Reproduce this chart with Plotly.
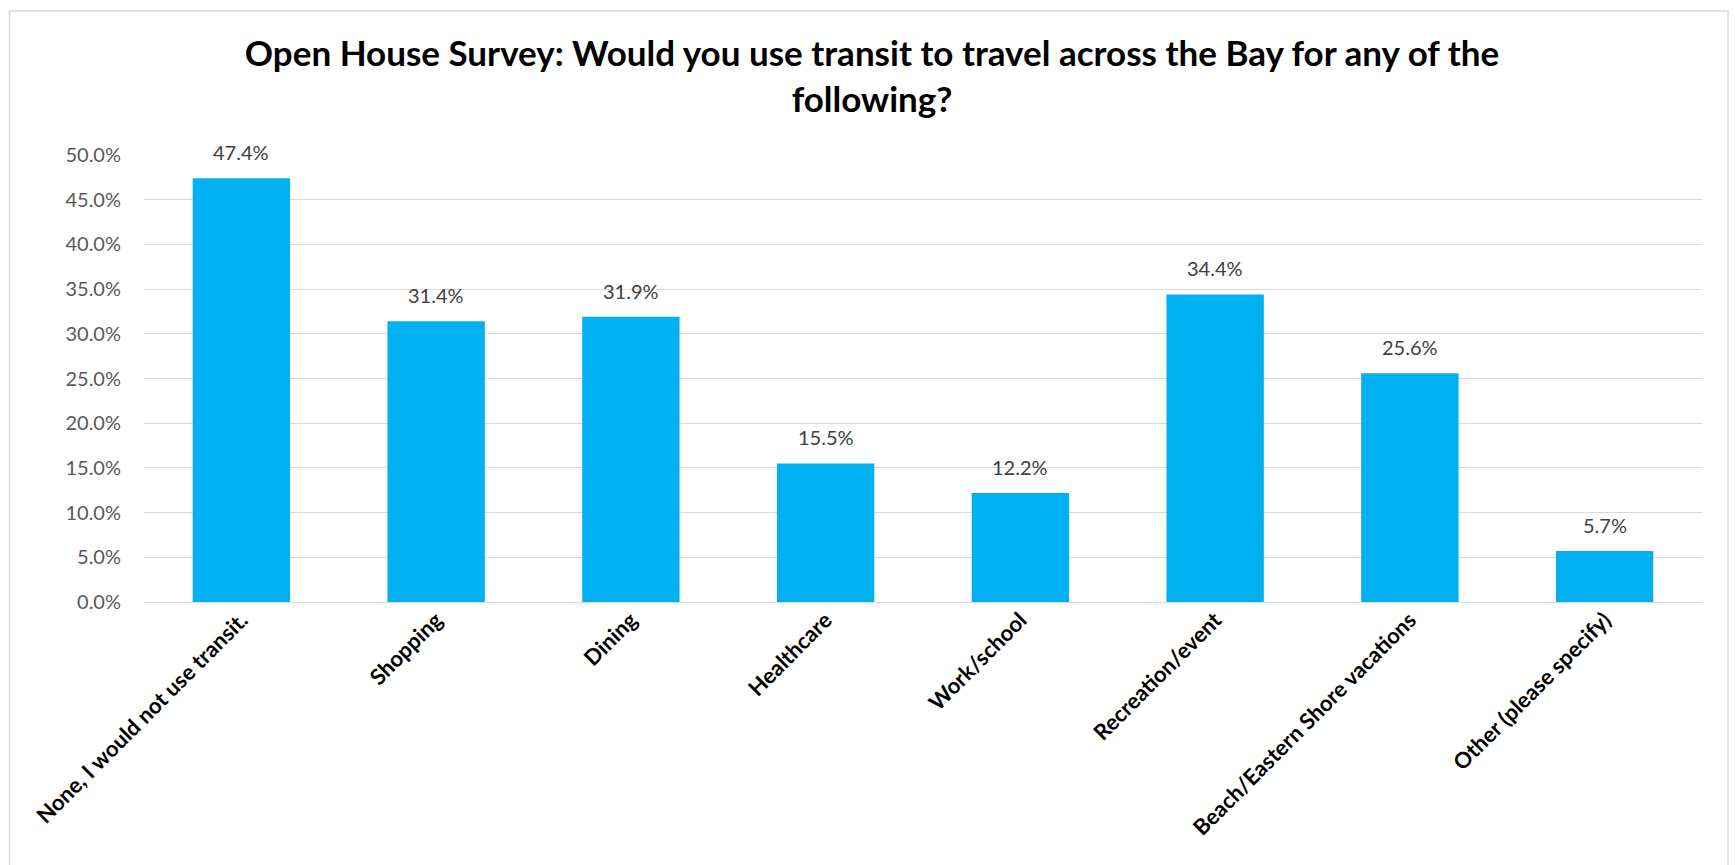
import plotly.graph_objects as go

# Survey responses
categories = [
    "None, I would not use transit.",
    "Shopping",
    "Dining",
    "Healthcare",
    "Work/school",
    "Recreation/event",
    "Beach/Eastern Shore vacations",
    "Other (please specify)",
]
shares = [0.474, 0.314, 0.319, 0.155, 0.122, 0.344, 0.256, 0.057]
y_ticks = [0.0, 0.05, 0.10, 0.15, 0.20, 0.25, 0.30, 0.35, 0.40, 0.45, 0.50]

title_text = ("Open House Survey: Would you use transit to travel across the Bay for any of the"
              "<br>following?")

W, H = 1735, 865
ML, MR, MT, MB = 144, 33, 155, 263
FONT = "Lato"

fig = go.Figure(
    go.Bar(
        x=categories,
        y=shares,
        marker=dict(color="#00B0F0", line=dict(width=0)),
        width=0.5,
        hoverinfo="x+y",
    )
)

# value labels above each bar
for c, v in zip(categories, shares):
    fig.add_annotation(
        x=c, y=v, text=f"{v * 100:.1f}%", showarrow=False,
        yanchor="bottom", yshift=12,
        font=dict(family=FONT, size=20, color="#404040"),
    )

# outer chart frame
pw, ph = W - ML - MR, H - MT - MB
fig.add_shape(
    type="rect", xref="paper", yref="paper",
    x0=(9.5 - ML) / pw, x1=(1728 - ML) / pw,
    y0=(H - MB - 880) / ph, y1=(H - MB - 11) / ph,
    line=dict(color="#d9d9d9", width=1.5), fillcolor="rgba(0,0,0,0)", layer="below",
)

fig.update_layout(
    width=W, height=H,
    margin=dict(l=ML, r=MR, t=MT, b=MB, autoexpand=False),
    paper_bgcolor="white", plot_bgcolor="white",
    showlegend=False,
    title=dict(
        text=f"<b>{title_text}</b>",
        x=872 / W, xref="container", xanchor="center",
        y=1 - 66 / H, yanchor="top",
        font=dict(family=FONT, size=35, color="black"),
    ),
    xaxis=dict(
        tickangle=-45,
        tickfont=dict(family=FONT, size=22, color="black", weight="bold"),
        showgrid=False, showline=False, ticks="", zeroline=False,
    ),
    yaxis=dict(
        range=[0, 0.5],
        tickvals=y_ticks,
        tickformat=".1%",
        tickfont=dict(family=FONT, size=20, color="#595959"),
        showgrid=True, gridcolor="#d9d9d9", gridwidth=1.3,
        zeroline=True, zerolinecolor="#d9d9d9", zerolinewidth=1.3,
        showline=False, ticks="", ticklen=0,
    ),
)
fig.update_yaxes(ticklabelstandoff=22)

fig.write_html("out.html")
